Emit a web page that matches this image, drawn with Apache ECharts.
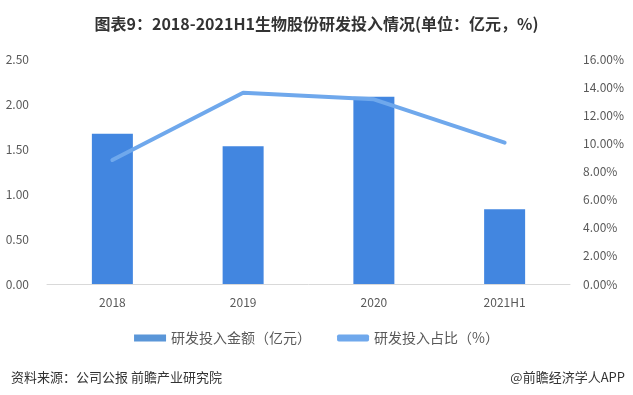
<!DOCTYPE html>
<html><head><meta charset="utf-8">
<script src="https://cdn.jsdelivr.net/npm/echarts@6/dist/echarts.min.js"></script>
<style>html,body{margin:0;padding:0;background:#fff}#c{width:633px;height:395px}</style>
</head><body><div id="c"></div>
<script>
const categories = ['2018', '2019', '2020', '2021H1'];
const investAmount = [1.67, 1.53, 2.08, 0.83];
const investRatio = [8.82, 13.6, 13.13, 10.05];
const leftTicks = [0, 0.5, 1.0, 1.5, 2.0, 2.5];
const rightTicks = [0, 2, 4, 6, 8, 10, 12, 14, 16];

const font = '"Microsoft YaHei","Noto Sans CJK SC",sans-serif';
const chart = echarts.init(document.getElementById('c'));
chart.setOption({
  animation: false,
  backgroundColor: '#fff',
  title: [{
    text: '图表9：2018-2021H1生物股份研发投入情况(单位：亿元，%)',
    left: 'center', top: 11,
    textStyle: {fontSize: 16, fontWeight: 'bold', color: '#333', fontFamily: font}
  }, {
    text: '资料来源：公司公报 前瞻产业研究院',
    left: 6, top: 366,
    textStyle: {fontSize: 13, fontWeight: 'normal', color: '#333', fontFamily: font}
  }, {
    text: '@前瞻经济学人APP',
    right: 3, top: 366,
    textStyle: {fontSize: 13, fontWeight: 'normal', color: '#333', fontFamily: font}
  }],
  legend: {
    top: 326, left: 'center', itemGap: 26,
    textStyle: {fontSize: 14, color: '#595959', fontFamily: font},
    data: [
      {name: '研发投入金额（亿元）', icon: 'rect', itemStyle: {color: '#5a96d8'}},
      {name: '研发投入占比（%）', icon: 'roundRect'}
    ],
    itemWidth: 32, itemHeight: 7
  },
  grid: {left: 47, right: 63, top: 59, bottom: 111},
  xAxis: {
    type: 'category', data: categories,
    axisLine: {lineStyle: {color: '#d9d9d9'}},
    axisTick: {show: false},
    axisLabel: {color: '#595959', fontSize: 12, margin: 12, fontFamily: font}
  },
  yAxis: [{
    type: 'value', min: leftTicks[0], max: leftTicks[leftTicks.length - 1], interval: 0.5,
    splitLine: {show: false}, axisLine: {show: false}, axisTick: {show: false},
    axisLabel: {color: '#595959', fontSize: 12, margin: 18, formatter: v => v.toFixed(2), fontFamily: font}
  }, {
    type: 'value', min: rightTicks[0], max: rightTicks[rightTicks.length - 1], interval: 2,
    splitLine: {show: false}, axisLine: {show: false}, axisTick: {show: false},
    axisLabel: {color: '#595959', fontSize: 12, margin: 13, formatter: v => v.toFixed(2) + '%', fontFamily: font}
  }],
  series: [{
    name: '研发投入金额（亿元）', type: 'bar', data: investAmount, barWidth: 41,
    itemStyle: {color: '#4286e0'}
  }, {
    name: '研发投入占比（%）', type: 'line', yAxisIndex: 1, data: investRatio,
    symbol: 'none', lineStyle: {color: '#6fa8ec', width: 4, cap: 'round'},
    itemStyle: {color: '#6fa8ec'}
  }]
});
</script></body></html>
